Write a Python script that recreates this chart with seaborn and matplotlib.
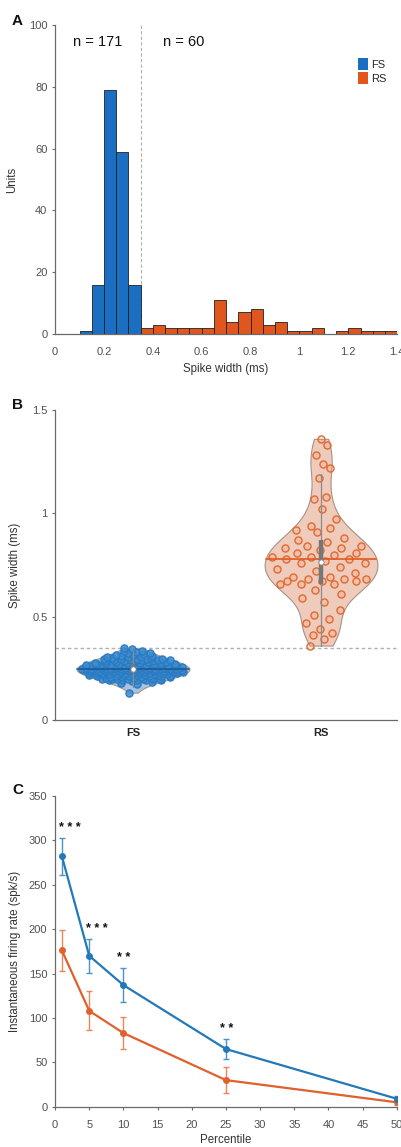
import numpy as np
import pandas as pd
import matplotlib
matplotlib.use("Agg")
import matplotlib.pyplot as plt
import seaborn as sns

# ---------------------------------------------------------------- data
# Spike widths (ms) of individual units
fs_width = [
    0.132,
    0.172, 0.181, 0.186, 0.189, 0.191, 0.192, 0.193, 0.194, 0.195, 0.196,
    0.197, 0.197, 0.198, 0.198, 0.199, 0.199,
    0.201, 0.203, 0.204, 0.206, 0.207, 0.208, 0.209, 0.211, 0.212, 0.212,
    0.213, 0.214, 0.215, 0.216, 0.217, 0.217, 0.218, 0.219, 0.220, 0.221,
    0.221, 0.222, 0.223, 0.224, 0.224, 0.225, 0.226, 0.226, 0.227, 0.228,
    0.228, 0.229, 0.230, 0.230, 0.231, 0.232, 0.232, 0.233, 0.233, 0.234,
    0.235, 0.235, 0.236, 0.236, 0.237, 0.237, 0.238, 0.238, 0.239, 0.239,
    0.240, 0.240, 0.241, 0.241, 0.242, 0.242, 0.243, 0.243, 0.243, 0.244,
    0.244, 0.245, 0.245, 0.245, 0.246, 0.246, 0.246, 0.247, 0.247, 0.247,
    0.248, 0.248, 0.248, 0.249, 0.249, 0.249, 0.249, 0.249, 0.249,
    0.251, 0.251, 0.251, 0.251, 0.252, 0.252, 0.252, 0.253, 0.253, 0.254,
    0.254, 0.255, 0.255, 0.256, 0.256, 0.257, 0.257, 0.258, 0.259, 0.259,
    0.260, 0.261, 0.261, 0.262, 0.263, 0.264, 0.264, 0.265, 0.266, 0.267,
    0.268, 0.269, 0.270, 0.271, 0.272, 0.273, 0.274, 0.275, 0.276, 0.277,
    0.278, 0.279, 0.281, 0.282, 0.283, 0.284, 0.286, 0.287, 0.288, 0.289,
    0.290, 0.291, 0.292, 0.293, 0.294, 0.295, 0.296, 0.297, 0.298,
    0.301, 0.303, 0.305, 0.307, 0.309, 0.311, 0.313, 0.316, 0.319, 0.322,
    0.325, 0.328, 0.332, 0.336, 0.341, 0.346,
]
rs_width = [
    0.36, 0.39, 0.41, 0.42, 0.44, 0.47, 0.49, 0.51, 0.53, 0.57, 0.59,
    0.61, 0.63,
    0.66, 0.66, 0.66, 0.67, 0.67, 0.67, 0.68, 0.68, 0.68, 0.69, 0.69,
    0.71, 0.72, 0.73, 0.74,
    0.76, 0.76, 0.77, 0.78, 0.78, 0.79, 0.79,
    0.80, 0.81, 0.81, 0.82, 0.83, 0.83, 0.84, 0.84,
    0.86, 0.87, 0.88, 0.91, 0.92, 0.93, 0.94,
    0.97, 1.02, 1.07, 1.08, 1.17, 1.22, 1.24, 1.28, 1.33, 1.36,
]
groups = ["FS", "RS"]
width_threshold = 0.35

# Instantaneous firing rate (mean +/- SEM) at each ISI percentile
percentile = [1, 5, 10, 25, 50]
fs_rate = [282, 170, 137, 65, 9]
fs_sem = [21, 19.5, 19.5, 11.5, 3]
rs_rate = [176, 108, 83, 30, 5]
rs_sem = [23, 22, 18.5, 14.5, 3]
significance = ["***", "***", "**", "**", ""]

# ---------------------------------------------------------------- style
sns.set_theme(style="ticks")
plt.rcParams["font.family"] = ["Liberation Sans", "DejaVu Sans"]
plt.rcParams.update({
    "axes.edgecolor": "#6a6a6a",
    "axes.linewidth": 0.9,
    "xtick.color": "#6a6a6a",
    "ytick.color": "#6a6a6a",
    "xtick.labelcolor": "#505050",
    "ytick.labelcolor": "#505050",
    "xtick.labelsize": 8,
    "ytick.labelsize": 8,
    "xtick.major.size": 2.5,
    "ytick.major.size": 2.5,
    "xtick.major.width": 0.8,
    "ytick.major.width": 0.8,
    "xtick.major.pad": 5,
    "ytick.major.pad": 3,
    "axes.labelsize": 8.3,
    "axes.labelcolor": "#333333",
})

BLUE = "#1b6fc2"
ORANGE = "#e0561c"
BLUE_LINE = "#2379b8"
ORANGE_LINE = "#e0612c"

fig = plt.figure(figsize=(4.02, 11.47), dpi=100)
axA = fig.add_axes([0.137, 0.7088, 0.851, 0.2694])
axB = fig.add_axes([0.137, 0.3723, 0.851, 0.2703])
axC = fig.add_axes([0.137, 0.0351, 0.850, 0.2709])

df = pd.DataFrame({
    "group": ["FS"] * len(fs_width) + ["RS"] * len(rs_width),
    "width": fs_width + rs_width,
})

# ---------------------------------------------------------------- A: histogram
edges = np.round(np.arange(0.10, 1.4001, 0.05), 2)
sns.histplot(data=df, x="width", hue="group", bins=edges, ax=axA,
             palette={"FS": BLUE, "RS": ORANGE}, alpha=1,
             edgecolor="#202020", linewidth=0.6, multiple="layer")
axA.axvline(width_threshold, color="#b0b0b0", lw=0.8, ls=(0, (3, 2)), zorder=0)
axA.set_xlim(0, 1.4)
axA.set_ylim(0, 100)
axA.set_xticks([0, 0.2, 0.4, 0.6, 0.8, 1.0, 1.2, 1.4])
axA.set_xticklabels(["0", "0.2", "0.4", "0.6", "0.8", "1", "1.2", "1.4"])
axA.set_yticks([0, 20, 40, 60, 80, 100])
axA.tick_params(axis="x", length=0, pad=9)
axA.set_xlabel("Spike width (ms)", labelpad=5)
axA.set_ylabel("Units", labelpad=8)
axA.text(0.175, 94.5, f"n = {len(fs_width)}", ha="center", va="center", fontsize=10.5, color="#111111")
axA.text(0.525, 94.5, f"n = {len(rs_width)}", ha="center", va="center", fontsize=10.5, color="#111111")
sns.move_legend(axA, loc="upper left", bbox_to_anchor=(0.855, 0.925), title=None,
                frameon=False, fontsize=8, handlelength=0.9, handleheight=1.2,
                handletextpad=0.3, labelspacing=0.25)
for h in axA.get_legend().legend_handles:
    h.set_edgecolor("none")
sns.despine(ax=axA)

# ---------------------------------------------------------------- B: violins
violin_fill = {"FS": "#9ec5ea", "RS": "#f7c8b2"}
violin_bw = {"FS": 3.0, "RS": 0.75}
polys = []
for g in groups:
    n_before = len(axB.collections)
    sns.violinplot(data=df[df.group == g], x="group", y="width", order=groups,
                   color=violin_fill[g], inner=None, cut=0,
                   density_norm="width", width=0.6, bw_adjust=violin_bw[g],
                   linewidth=0.8, linecolor="#a89288", ax=axB)
    polys.append(axB.collections[n_before])


def half_width(poly, center):
    v = poly.get_paths()[0].vertices
    right = v[v[:, 0] >= center]
    order = np.argsort(right[:, 1])
    ys, idx = np.unique(right[order, 1], return_index=True)
    return lambda y: np.interp(y, ys, right[order, 0][idx] - center)


point_style = {
    "FS": dict(fc=(0.24, 0.55, 0.82, 0.85), ec="#2a7bc2", s=26),
    "RS": dict(fc=(0.95, 0.55, 0.38, 0.18), ec="#e4692f", s=26),
}
mean_color = {"FS": "#1d5a96", "RS": "#e0581f"}
golden = 0.6180339887
for pos, (g, poly) in enumerate(zip(groups, polys)):
    vals = np.asarray(df.loc[df.group == g, "width"])
    hw = half_width(poly, pos)
    u = ((np.arange(len(vals)) * golden) % 1.0) * 2 - 1
    xs = pos + u * hw(vals) * 0.92
    st = point_style[g]
    axB.scatter(xs, vals, s=st["s"], facecolors=[st["fc"]], edgecolors=st["ec"],
                linewidths=1.0, zorder=3)
    # mean line across the violin
    m = vals.mean()
    w = hw(m)
    axB.plot([pos - w, pos + w], [m, m], color=mean_color[g], lw=1.2, zorder=4)
    # box: IQR bar, whiskers, median dot
    q1, med, q3 = np.percentile(vals, [25, 50, 75])
    iqr = q3 - q1
    lo = max(vals.min(), q1 - 1.5 * iqr)
    hi = min(vals.max(), q3 + 1.5 * iqr) if g == "FS" else q3 + 1.5 * iqr
    axB.plot([pos, pos], [lo, hi], color="#8a8a8a", lw=0.9, zorder=5)
    axB.plot([pos, pos], [q1, q3], color="#777777", lw=3.2, zorder=5,
             solid_capstyle="butt")
    axB.scatter([pos], [med], s=14, fc="white", ec="#8a8a8a", lw=0.6, zorder=6)

axB.axhline(width_threshold, color="#b0b0b0", lw=1.0, ls=(0, (2.5, 2)), zorder=1)
axB.set_xlim(-0.415, 1.405)
axB.set_ylim(0, 1.5)
axB.set_yticks([0, 0.5, 1.0, 1.5])
axB.set_yticklabels(["0", "0.5", "1", "1.5"])
axB.set_xlabel("")
axB.set_ylabel("Spike width (ms)", labelpad=8)
axB.tick_params(axis="x", length=0, pad=6)
for lab in axB.get_xticklabels():
    lab.set_fontweight("bold")
    lab.set_color("#222222")
    lab.set_fontsize(8)
sns.despine(ax=axB)

# ---------------------------------------------------------------- C: firing rate
rate_df = pd.DataFrame({
    "percentile": percentile * 2,
    "rate": rs_rate + fs_rate,
    "cell": ["RS"] * len(percentile) + ["FS"] * len(percentile),
})
sns.lineplot(data=rate_df, x="percentile", y="rate", hue="cell",
             palette={"FS": BLUE_LINE, "RS": ORANGE_LINE}, marker="o",
             markersize=5, markeredgewidth=0, lw=1.6, legend=False, ax=axC)
axC.errorbar(percentile, rs_rate, yerr=rs_sem, fmt="none", ecolor="#e8875a",
             elinewidth=1.0, capsize=2.5, capthick=1.0, zorder=1)
axC.errorbar(percentile, fs_rate, yerr=fs_sem, fmt="none", ecolor="#4a93c9",
             elinewidth=1.0, capsize=2.5, capthick=1.0, zorder=1)
for p, r, e, sig in zip(percentile, fs_rate, fs_sem, significance):
    if sig:
        dx = 1.1 if len(sig) == 3 else 0.1
        axC.text(p + dx, r + e + 11, " ".join(sig), ha="center", va="center",
                 fontsize=9, fontweight="bold", color="#111111")
axC.set_xlim(0, 50)
axC.set_ylim(0, 350)
axC.set_xticks(range(0, 51, 5))
axC.set_yticks(range(0, 351, 50))
axC.tick_params(axis="x", pad=7)
axC.set_xlabel("Percentile", labelpad=3)
axC.set_ylabel("Instantaneous firing rate (spk/s)", labelpad=6)
sns.despine(ax=axC)

# ---------------------------------------------------------------- panel letters
for letter, y in (("A", 0.982), ("B", 0.647), ("C", 0.311)):
    fig.text(0.030, y, letter, fontsize=11, fontweight="bold", color="#111111",
             va="center", ha="left")

fig.savefig("out.png", dpi=100)
